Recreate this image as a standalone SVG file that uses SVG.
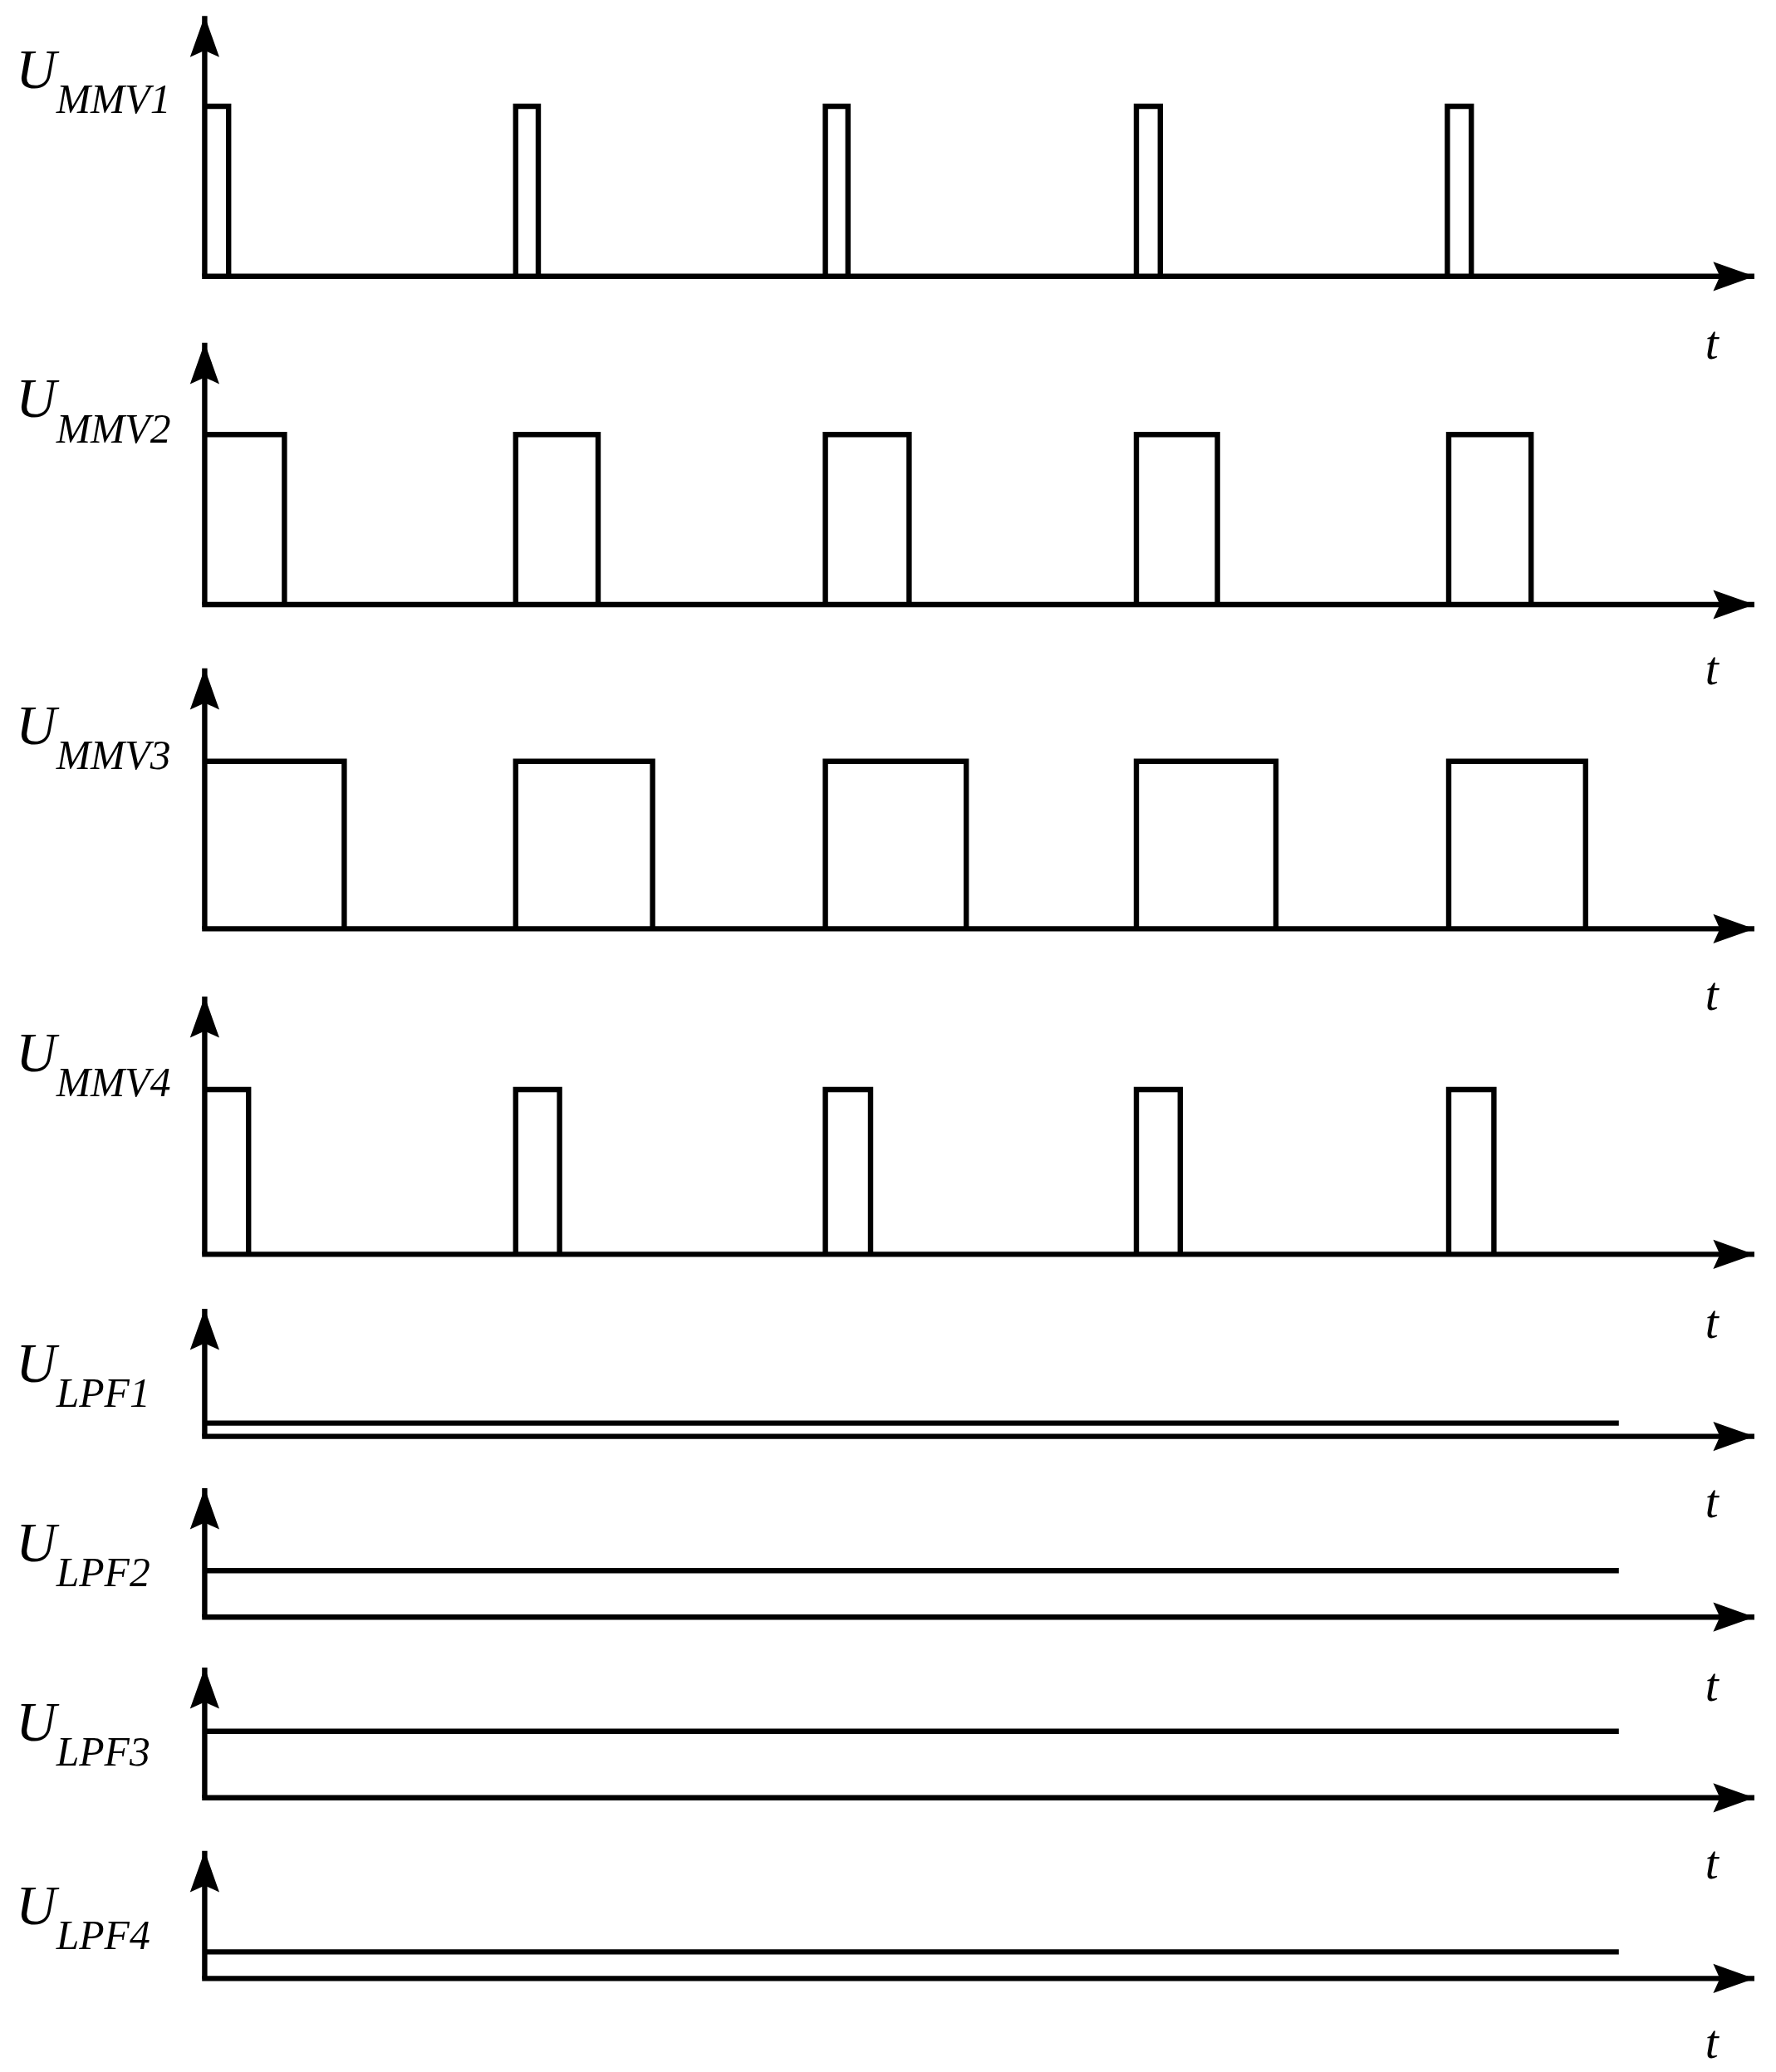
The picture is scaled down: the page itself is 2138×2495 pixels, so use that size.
<svg xmlns="http://www.w3.org/2000/svg" width="2138" height="2495" viewBox="0 0 2138 2495">
<style>
.w{fill:none;stroke:#000;stroke-width:4;stroke-linejoin:miter}
.ax{fill:none;stroke:#000;stroke-width:4}
.u{font-family:"Liberation Serif",serif;font-style:italic;font-size:42px;fill:#000}
.s{font-size:31px}
.t{font-family:"Liberation Serif",serif;font-style:italic;font-size:36px;fill:#000}
</style>
<defs>
<marker id="ah" markerUnits="userSpaceOnUse" markerWidth="40" markerHeight="40" refX="34" refY="15" orient="auto" viewBox="0 0 40 30">
<path d="M34,15 L3,4 L8,15 L3,26 Z" fill="#000"/>
</marker>
</defs>
<rect width="2138" height="2495" fill="#fff"/>
<g transform="scale(1.6)">
<g id="axes">
<path class="ax" d="M154,208 V12" marker-end="url(#ah)"/><path class="ax" d="M152,208 H1320" marker-end="url(#ah)"/>
<path class="ax" d="M154,455 V258" marker-end="url(#ah)"/><path class="ax" d="M152,455 H1320" marker-end="url(#ah)"/>
<path class="ax" d="M154,699 V503" marker-end="url(#ah)"/><path class="ax" d="M152,699 H1320" marker-end="url(#ah)"/>
<path class="ax" d="M154,944 V750" marker-end="url(#ah)"/><path class="ax" d="M152,944 H1320" marker-end="url(#ah)"/>
<path class="ax" d="M154,1081 V985" marker-end="url(#ah)"/><path class="ax" d="M152,1081 H1320" marker-end="url(#ah)"/>
<path class="ax" d="M154,1217 V1120" marker-end="url(#ah)"/><path class="ax" d="M152,1217 H1320" marker-end="url(#ah)"/>
<path class="ax" d="M154,1353 V1255" marker-end="url(#ah)"/><path class="ax" d="M152,1353 H1320" marker-end="url(#ah)"/>
<path class="ax" d="M154,1489 V1393" marker-end="url(#ah)"/><path class="ax" d="M152,1489 H1320" marker-end="url(#ah)"/>
</g>
<g id="mmv1">
<path class="w" d="M154,80 H172 V208 M388,208 V80 H405 V208 M621,208 V80 H638 V208 M855,208 V80 H873 V208 M1089,208 V80 H1107 V208"/>
<text class="u" x="12" y="66">U<tspan class="s" dy="19">MMV1</tspan></text><text class="t" x="1283" y="270">t</text>
</g>
<g id="mmv2">
<path class="w" d="M154,327 H214 V455 M388,455 V327 H450 V455 M621,455 V327 H684 V455 M855,455 V327 H916 V455 M1090,455 V327 H1152 V455"/>
<text class="u" x="12" y="314">U<tspan class="s" dy="19">MMV2</tspan></text><text class="t" x="1283" y="515">t</text>
</g>
<g id="mmv3">
<path class="w" d="M154,573 H259 V699 M388,699 V573 H491 V699 M621,699 V573 H727 V699 M855,699 V573 H960 V699 M1090,699 V573 H1193 V699"/>
<text class="u" x="12" y="560">U<tspan class="s" dy="19">MMV3</tspan></text><text class="t" x="1283" y="760">t</text>
</g>
<g id="mmv4">
<path class="w" d="M154,820 H187 V944 M388,944 V820 H421 V944 M621,944 V820 H655 V944 M855,944 V820 H888 V944 M1090,944 V820 H1124 V944"/>
<text class="u" x="12" y="806">U<tspan class="s" dy="19">MMV4</tspan></text><text class="t" x="1283" y="1007">t</text>
</g>
<g id="lpf1"><path class="w" d="M154,1071 H1218"/><text class="u" x="12" y="1040">U<tspan class="s" dy="19">LPF1</tspan></text><text class="t" x="1283" y="1142">t</text></g>
<g id="lpf2"><path class="w" d="M154,1182 H1218"/><text class="u" x="12" y="1175">U<tspan class="s" dy="19">LPF2</tspan></text><text class="t" x="1283" y="1280">t</text></g>
<g id="lpf3"><path class="w" d="M154,1303 H1218"/><text class="u" x="12" y="1310">U<tspan class="s" dy="19">LPF3</tspan></text><text class="t" x="1283" y="1414">t</text></g>
<g id="lpf4"><path class="w" d="M154,1469 H1218"/><text class="u" x="12" y="1448">U<tspan class="s" dy="19">LPF4</tspan></text><text class="t" x="1283" y="1549">t</text></g>
</g>
</svg>
